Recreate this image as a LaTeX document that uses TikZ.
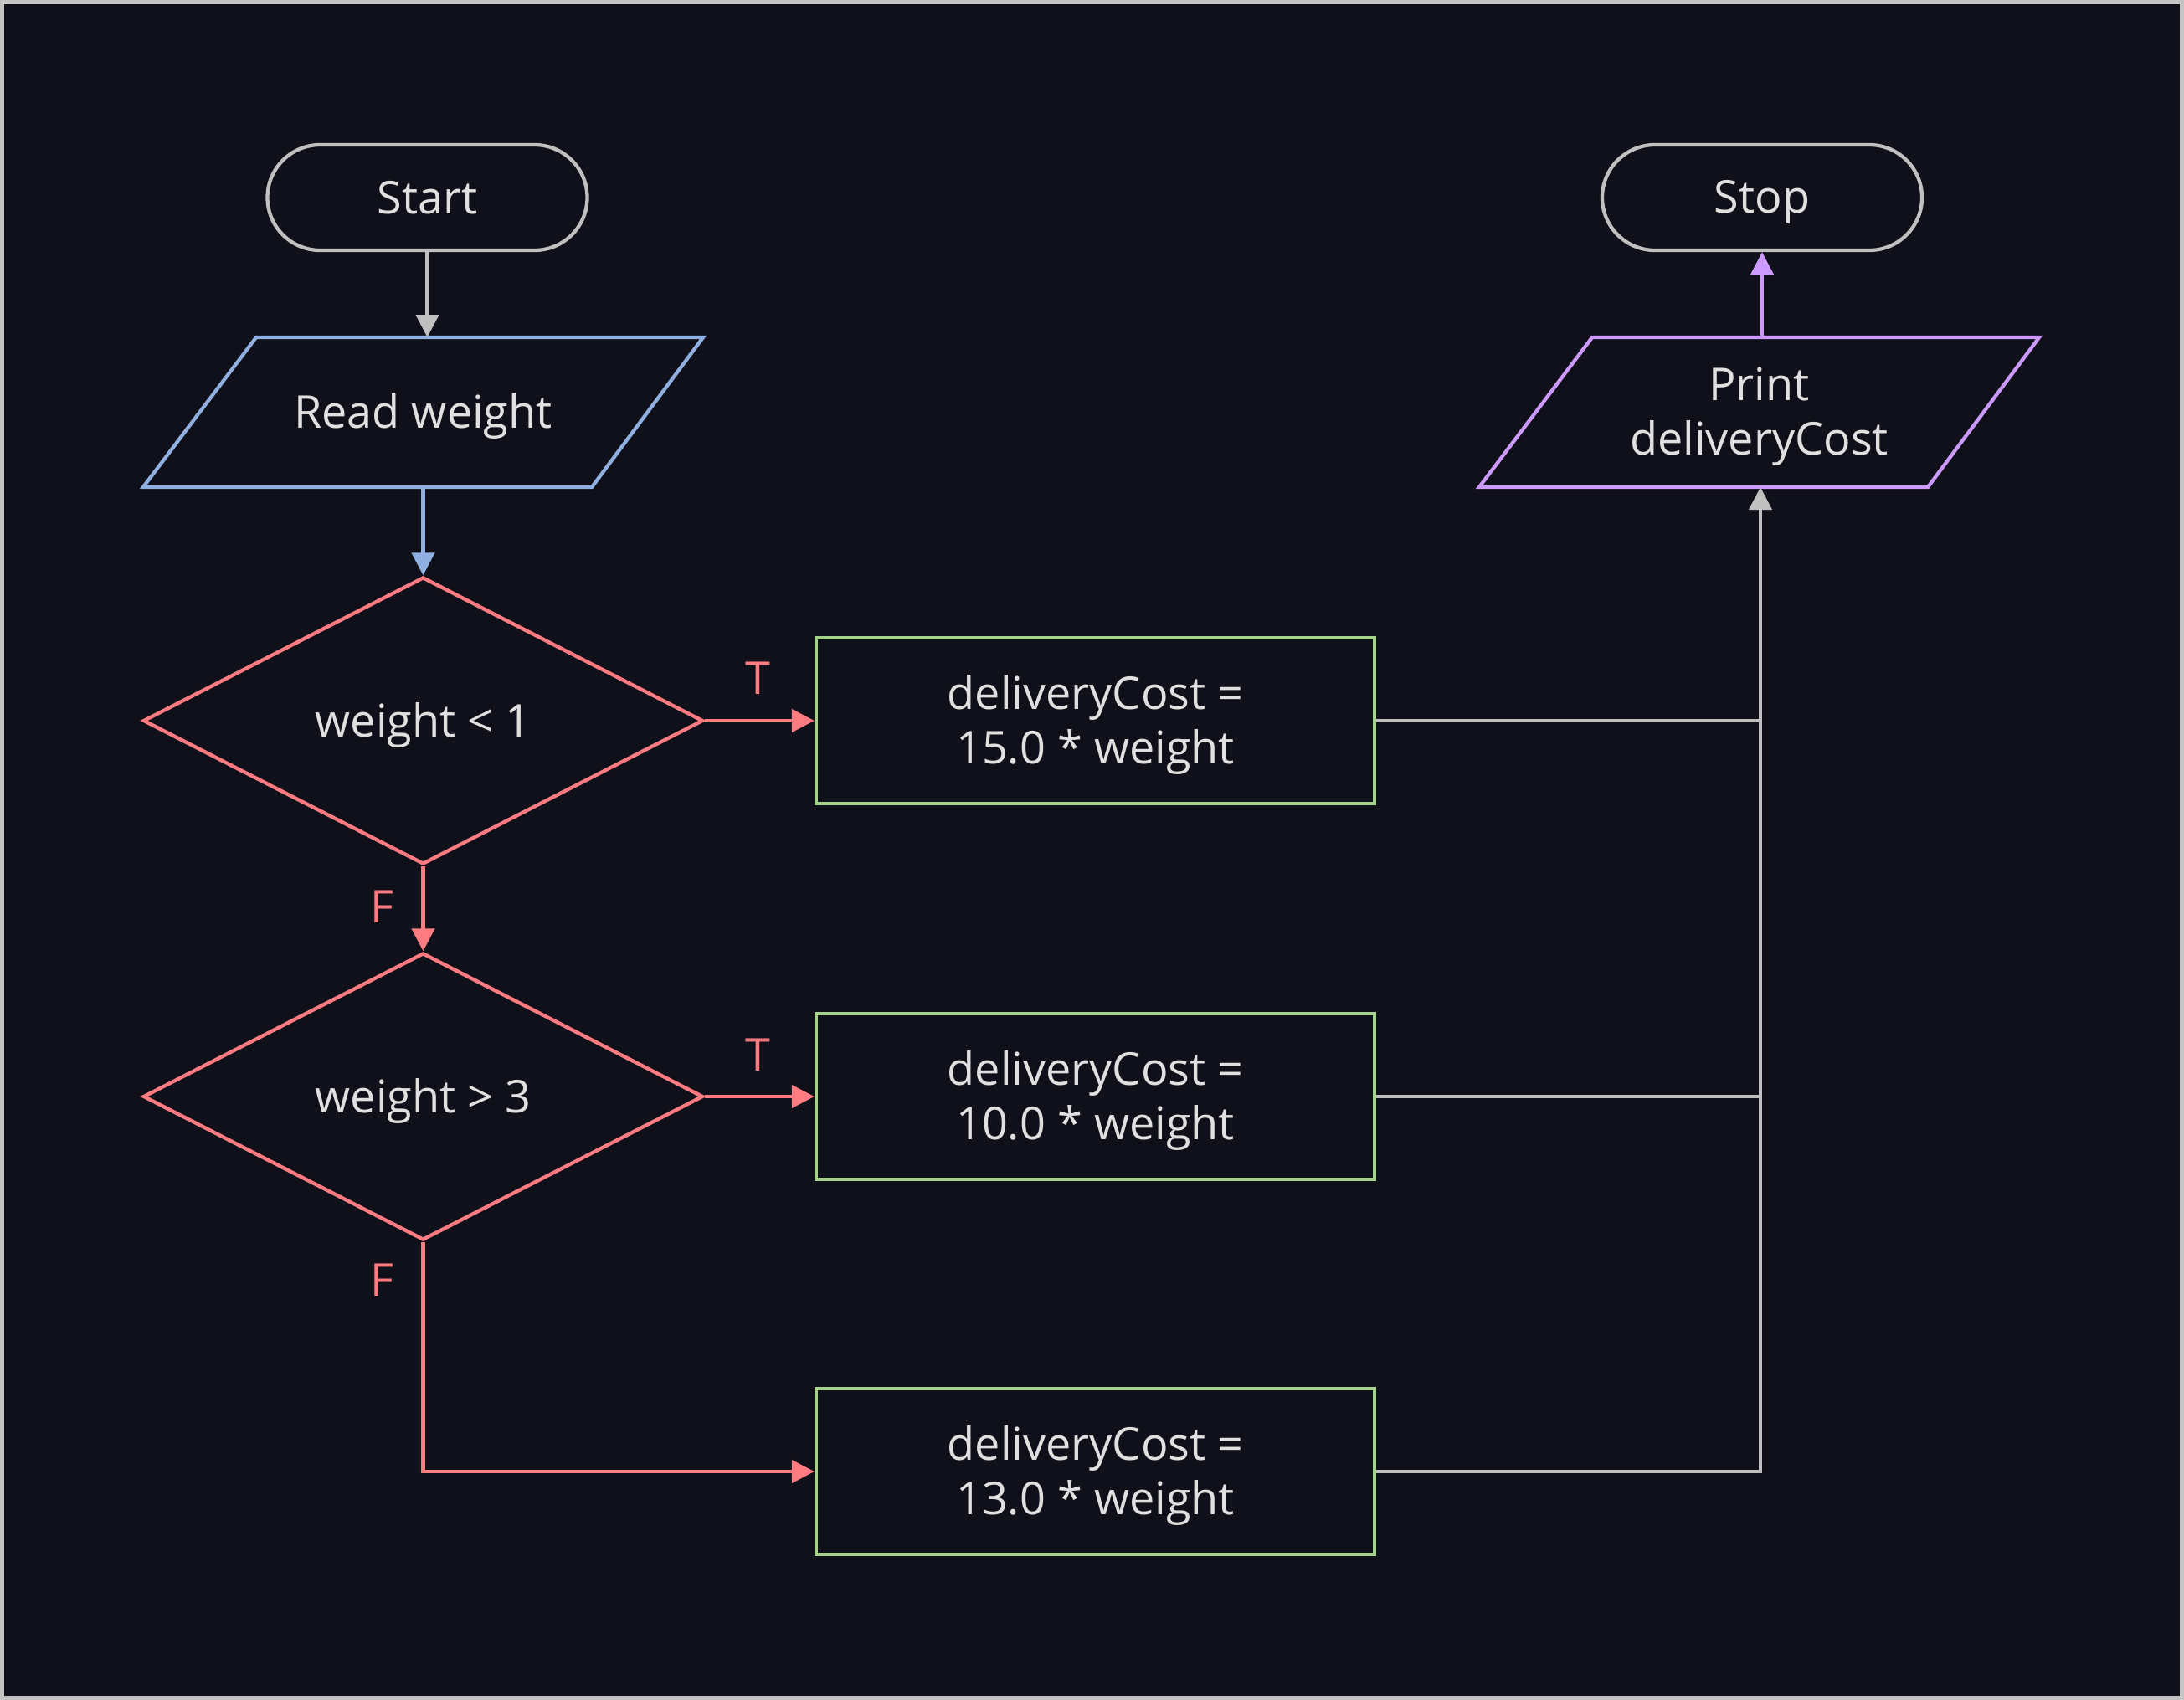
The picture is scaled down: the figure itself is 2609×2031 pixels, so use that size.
\documentclass[tikz,border=0pt]{standalone}
\usepackage{fontspec}
\setmainfont{Open Sans}
\usetikzlibrary{arrows.meta,shapes.geometric,shapes.misc}
\definecolor{bg}{HTML}{0F1019}
\definecolor{frame}{HTML}{C4C4C4}
\definecolor{grayc}{HTML}{C0C0C0}
\definecolor{txtc}{HTML}{E0E0E0}
\definecolor{bluec}{HTML}{8FB0E0}
\definecolor{redc}{HTML}{FF7B82}
\definecolor{greenc}{HTML}{A6D38B}
\definecolor{purplec}{HTML}{CC99FF}
\begin{document}
\begin{tikzpicture}[x=1pt,y=-1pt,
  txt/.style={text=txtc, font=\fontsize{54}{65}\selectfont, align=center, inner sep=0pt},
  term/.style={rounded rectangle, draw=grayc, line width=4.3pt, minimum width=382pt, minimum height=126pt, inner sep=0pt},
  dec/.style={diamond, draw=redc, line width=4.3pt, minimum width=669pt, minimum height=343pt, inner sep=0pt},
  proc/.style={rectangle, draw=greenc, line width=4.3pt, minimum width=667pt, minimum height=198pt, inner sep=0pt},
  lbl/.style={text=redc, font=\fontsize{54}{65}\selectfont, inner sep=0pt},
  tip/.style={-{Triangle[length=27pt,width=27pt]}},
  conn/.style={line width=4.3pt}
]
\useasboundingbox (0,0) rectangle (2609,2031);
\fill[frame] (0,0) rectangle (2609,2031);
\fill[bg] (5,5) rectangle (2604,2026);

% terminals
\node[term] (start) at (510.5,236) {};
\node[txt] (startt) at (510.5,236) {Start};
\node[term] (stop) at (2105,236) {};
\node[txt] (stopt) at (2105,241) {Stop};

% input parallelogram
\draw[bluec, line width=4.3pt, line join=miter] (306,403) coordinate (readTL) -- (840,403) coordinate (readTR)
  -- (707,582) coordinate (readBR) -- (171,582) coordinate (readBL) -- cycle;
\node[txt] (read) at (505.5,497.5) {Read weight};

% output parallelogram
\draw[purplec, line width=4.3pt, line join=miter] (1902,403) coordinate (prTL) -- (2436,403) coordinate (prTR)
  -- (2303,582) coordinate (prBR) -- (1767,582) coordinate (prBL) -- cycle;
\node[txt] (print) at (2101.5,497.5) {Print\\deliveryCost};
\coordinate (prIn) at (2103,582);

% decisions
\node[dec] (d1) at (505.5,861) {};
\node[txt] (d1t) at (505.5,866) {weight < 1};
\node[dec] (d2) at (505.5,1310) {};
\node[txt] (d2t) at (505.5,1315) {weight > 3};

% processes
\node[proc] (b1) at (1308.5,861) {};
\node[txt] (b1t) at (1308.5,866) {deliveryCost =\\15.0 * weight};
\node[proc] (b2) at (1308.5,1310) {};
\node[txt] (b2t) at (1308.5,1315) {deliveryCost =\\10.0 * weight};
\node[proc] (b3) at (1308.5,1758) {};
\node[txt] (b3t) at (1308.5,1763) {deliveryCost =\\13.0 * weight};

% connectors
\draw[conn, grayc, tip] (start.south) -- (start.south |- readTL);
\draw[conn, bluec, tip] (read.center |- readBL) -- (d1.north);
\draw[conn, redc, tip] (d1.east) -- (b1.west);
\draw[conn, redc, tip] (d1.south) -- (d2.north);
\draw[conn, redc, tip] (d2.east) -- (b2.west);
\draw[conn, redc, tip] (d2.south) |- (b3.west);
\draw[conn, grayc] (b1.east) -- (b1.east -| prIn);
\draw[conn, grayc] (b2.east) -- (b2.east -| prIn);
\draw[conn, grayc, tip] (b3.east) -| (prIn);
\draw[conn, purplec, tip] (stop.south |- prTL) -- (stop.south);

% labels
\node[lbl] (t1) at (905,810) {T};
\node[lbl] (f1) at (456,1083) {F};
\node[lbl] (t2) at (905,1260) {T};
\node[lbl] (f2) at (456,1529) {F};
\end{tikzpicture}
\end{document}
